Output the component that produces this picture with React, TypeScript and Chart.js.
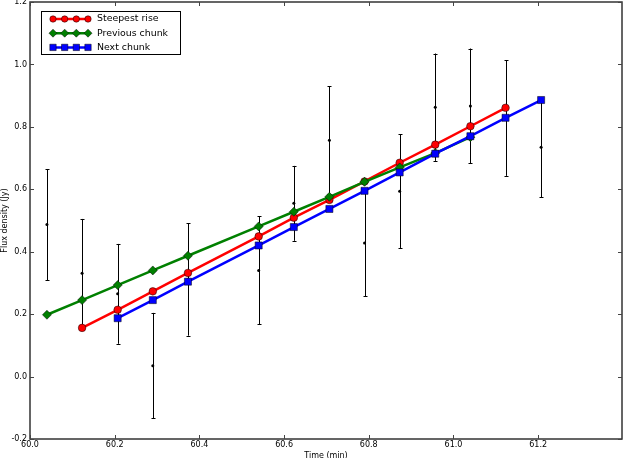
import React, { useEffect, useRef } from "react";
import { Chart, registerables } from "chart.js";
Chart.register(...registerables);

// Observed light curve (time in minutes, flux density in Jy)
const times = [60.040, 60.123, 60.207, 60.290, 60.373, 60.540, 60.623, 60.707, 60.790, 60.873, 60.957, 61.040, 61.123, 61.207];
const flux = [0.487, 0.331, 0.265, 0.035, 0.311, 0.340, 0.555, 0.757, 0.428, 0.594, 0.863, 0.867, 0.828, 0.735];
const fluxErr = [0.178, 0.174, 0.160, 0.169, 0.180, 0.173, 0.120, 0.173, 0.170, 0.182, 0.172, 0.184, 0.185, 0.160];

// Fitted lines
const steepestTimes = times.slice(1, 13);
const steepestRise = [0.156, 0.214, 0.273, 0.332, 0.449, 0.509, 0.566, 0.625, 0.685, 0.743, 0.802, 0.861];
const previousTimes = times.slice(0, 12);
const previousChunk = [0.198, 0.245, 0.293, 0.340, 0.387, 0.481, 0.528, 0.576, 0.624, 0.670, 0.716, 0.767];
const nextTimes = times.slice(2, 14);
const nextChunk = [0.187, 0.245, 0.304, 0.420, 0.479, 0.537, 0.595, 0.654, 0.714, 0.770, 0.829, 0.886];

const xTicks = [60.0, 60.2, 60.4, 60.6, 60.8, 61.0, 61.2];
const yTicks = [-0.2, 0.0, 0.2, 0.4, 0.6, 0.8, 1.0, 1.2];
const seriesLabels = ["Steepest rise", "Previous chunk", "Next chunk"];

const FONT = "DejaVu Sans";

const pts = (xs: number[], ys: number[]) => xs.map((x, i) => ({ x, y: ys[i] }));

const errorBarPlugin = {
  id: "errorBars",
  beforeDatasetsDraw(chart: any) {
    const { ctx, scales } = chart;
    const xs = scales.x, ys = scales.y;
    ctx.save();
    ctx.strokeStyle = "#000";
    ctx.lineWidth = 1;
    times.forEach((t, i) => {
      const px = Math.round(xs.getPixelForValue(t)) + 0.5;
      const top = ys.getPixelForValue(flux[i] + fluxErr[i]);
      const bot = ys.getPixelForValue(flux[i] - fluxErr[i]);
      ctx.beginPath();
      ctx.moveTo(px, top);
      ctx.lineTo(px, bot);
      ctx.moveTo(px - 2, Math.round(top) + 0.5);
      ctx.lineTo(px + 2, Math.round(top) + 0.5);
      ctx.moveTo(px - 2, Math.round(bot) + 0.5);
      ctx.lineTo(px + 2, Math.round(bot) + 0.5);
      ctx.stroke();
    });
    ctx.restore();
  },
};

function drawMarker(ctx: CanvasRenderingContext2D, shape: string, r: number, mx: number, y: number) {
  ctx.beginPath();
  if (shape === "circle") ctx.arc(mx, y, r, 0, Math.PI * 2);
  else if (shape === "rectRot") {
    ctx.moveTo(mx, y - r);
    ctx.lineTo(mx + r, y);
    ctx.lineTo(mx, y + r);
    ctx.lineTo(mx - r, y);
    ctx.closePath();
  } else {
    const s = r * Math.SQRT1_2;
    ctx.rect(mx - s, y - s, 2 * s, 2 * s);
  }
  ctx.fill();
  ctx.stroke();
}

const framePlugin = {
  id: "frame",
  afterDraw(chart: any) {
    const { ctx, chartArea: a, scales } = chart;
    ctx.save();
    ctx.strokeStyle = "#333";
    ctx.lineWidth = 1.5;
    ctx.strokeRect(a.left, a.top, a.right - a.left, a.bottom - a.top);
    ctx.lineWidth = 1;
    ctx.strokeStyle = "#444";
    ctx.beginPath();
    xTicks.forEach((v) => {
      const px = Math.round(scales.x.getPixelForValue(v)) + 0.5;
      ctx.moveTo(px, a.bottom);
      ctx.lineTo(px, a.bottom - 4);
      ctx.moveTo(px, a.top);
      ctx.lineTo(px, a.top + 4);
    });
    yTicks.forEach((v) => {
      const py = Math.round(scales.y.getPixelForValue(v)) + 0.5;
      ctx.moveTo(a.left, py);
      ctx.lineTo(a.left + 4, py);
      ctx.moveTo(a.right, py);
      ctx.lineTo(a.right - 4, py);
    });
    ctx.stroke();

    // legend
    const bx = a.left + 11, by = a.top + 9, bw = 139, bh = 43;
    ctx.fillStyle = "#fff";
    ctx.fillRect(bx, by, bw, bh);
    ctx.strokeStyle = "#000";
    ctx.lineWidth = 1;
    ctx.strokeRect(bx + 0.5, by + 0.5, bw, bh);
    const colors = ["#ff0000", "#008000", "#0000ff"];
    const shapes = ["circle", "rectRot", "rect"];
    const radii = [3.2, 4, 4.5];
    seriesLabels.forEach((label, i) => {
      const y = by + 8 + i * 14.2;
      const x0 = bx + 12, x1 = bx + 47;
      ctx.strokeStyle = colors[i];
      ctx.lineWidth = 2.5;
      ctx.beginPath();
      ctx.moveTo(x0, y);
      ctx.lineTo(x1, y);
      ctx.stroke();
      for (let k = 0; k < 4; k++) {
        const mx = x0 + (k * (x1 - x0)) / 3;
        ctx.fillStyle = colors[i];
        ctx.strokeStyle = "#000";
        ctx.lineWidth = 0.5;
        drawMarker(ctx, shapes[i], radii[i], mx, y);
      }
      ctx.fillStyle = "#000";
      ctx.font = `9.4px "${FONT}"`;
      ctx.textBaseline = "middle";
      ctx.textAlign = "left";
      ctx.fillText(label, bx + 56, y);
    });
    ctx.restore();
  },
};

const zeroPad = (s: any) => {
  s.paddingLeft = 0;
  s.paddingRight = 0;
  s.paddingTop = 0;
  s.paddingBottom = 0;
};

export default function App() {
  const ref = useRef<HTMLCanvasElement>(null);
  useEffect(() => {
    const lineDs = (label: string, xs: number[], ys: number[], color: string, style: string, r: number, order: number) => ({
      label,
      data: pts(xs, ys),
      borderColor: color,
      backgroundColor: color,
      borderWidth: 2.5,
      pointStyle: style,
      pointRadius: r,
      pointBorderColor: "#000",
      pointBorderWidth: 0.5,
      pointBackgroundColor: color,
      showLine: true,
      tension: 0,
      clip: 8,
      order,
    });
    const chart = new Chart(ref.current!, {
      type: "line",
      data: {
        datasets: [
          {
            label: "data",
            data: pts(times, flux),
            showLine: false,
            pointRadius: 1.5,
            pointBackgroundColor: "#000",
            pointBorderColor: "#000",
            pointBorderWidth: 0,
            order: 10,
          } as any,
          lineDs(seriesLabels[0], steepestTimes, steepestRise, "#ff0000", "circle", 3.8, 3),
          lineDs(seriesLabels[1], previousTimes, previousChunk, "#008000", "rectRot", 4.5, 2),
          lineDs(seriesLabels[2], nextTimes, nextChunk, "#0000ff", "rect", 5, 1),
        ],
      },
      options: {
        responsive: false,
        animation: false,
        devicePixelRatio: 1,
        layout: { autoPadding: false, padding: { left: 0, top: 2, right: 1, bottom: 0 } },
        plugins: { legend: { display: false }, tooltip: { enabled: false } },
        scales: {
          x: {
            type: "linear",
            min: 60.0,
            max: 61.398,
            grid: { display: false, drawTicks: false },
            border: { display: false },
            afterBuildTicks: (s: any) => {
              s.ticks = xTicks.map((v) => ({ value: v }));
            },
            afterFit: (s: any) => {
              s.height = 19;
              zeroPad(s);
            },
            ticks: {
              autoSkip: false,
              maxRotation: 0,
              padding: 1,
              color: "#000",
              font: { family: FONT, size: 8 },
              callback: (v: any) => Number(v).toFixed(1),
            },
            title: {
              display: true,
              text: "Time (min)",
              color: "#000",
              font: { family: FONT, size: 8 },
              padding: { top: 0, bottom: -3 },
            },
          },
          y: {
            type: "linear",
            min: -0.2,
            max: 1.2,
            grid: { display: false, drawTicks: false },
            border: { display: false },
            afterBuildTicks: (s: any) => {
              s.ticks = yTicks.map((v) => ({ value: v }));
            },
            afterFit: (s: any) => {
              s.width = 30;
              zeroPad(s);
            },
            ticks: {
              autoSkip: false,
              padding: 3,
              color: "#000",
              font: { family: FONT, size: 8 },
              callback: (v: any) => Number(v).toFixed(1),
            },
            title: {
              display: true,
              text: "Flux density (Jy)",
              color: "#000",
              font: { family: FONT, size: 8 },
              padding: 0,
            },
          },
        },
      } as any,
      plugins: [errorBarPlugin, framePlugin],
    });
    return () => chart.destroy();
  }, []);
  return (
    <div style={{ position: "absolute", left: 0, top: 0, width: 623, height: 458, background: "#fff" }}>
      <canvas ref={ref} width={623} height={458} style={{ display: "block" }} />
    </div>
  );
}
